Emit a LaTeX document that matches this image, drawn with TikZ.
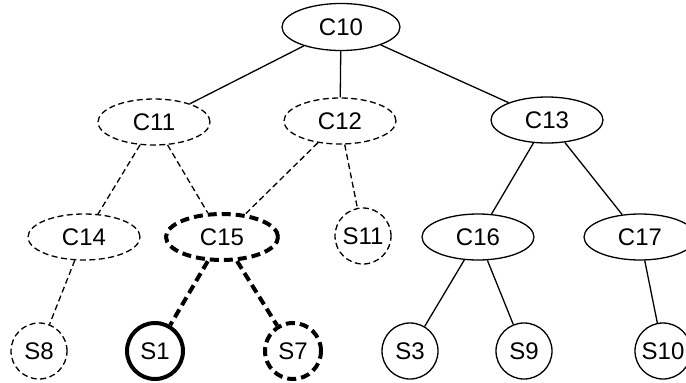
\documentclass[tikz,border=0pt]{standalone}
\usepackage{fontspec}
\setmainfont{Liberation Sans}
\usetikzlibrary{shapes.geometric}
\begin{document}
\begin{tikzpicture}[x=1pt,y=-1pt,
  every node/.style={font=\fontsize{24}{28}\selectfont, inner sep=0pt},
  cluster/.style={ellipse, draw, line width=1.3pt, minimum width=112pt, minimum height=46pt},
  leaf/.style={circle, draw, line width=1.3pt, minimum size=56pt},
  thin dash/.style={line width=1.3pt, dash pattern=on 6pt off 3.5pt},
  thick dash/.style={line width=4pt, dash pattern=on 9pt off 5pt},
  thick solid/.style={line width=4pt},
  link/.style={line width=1.3pt}]
\useasboundingbox (0,0) rectangle (686,383);
% clusters
\node[cluster, minimum width=118pt, minimum height=47pt] (c10) at (341,27) {C10};
\node[cluster, thin dash] (c11) at (154,122) {C11};
\node[cluster, thin dash] (c12) at (340,121) {C12};
\node[cluster] (c13) at (547,120) {C13};
\node[cluster, thin dash] (c14) at (84,237) {C14};
\node[cluster, thick dash] (c15) at (222,237) {C15};
\node[cluster] (c16) at (478,237) {C16};
\node[cluster] (c17) at (640,237) {C17};
% leaves
\node[leaf, thin dash] (s11) at (363,236) {S11};
\node[leaf, thin dash] (s8) at (39,351) {S8};
\node[leaf, thick solid] (s1) at (155,351) {S1};
\node[leaf, thick dash] (s7) at (293,351) {S7};
\node[leaf] (s3) at (410,351) {S3};
\node[leaf] (s9) at (524,351) {S9};
\node[leaf] (s10) at (663,351) {S10};
% connectors
\draw[link] (c10) -- (c11);
\draw[link] (c10) -- (c12);
\draw[link] (c10) -- (c13);
\draw[thin dash] (c11) -- (c14);
\draw[thin dash] (c11) -- (c15);
\draw[thin dash] (c12) -- (c15);
\draw[thin dash] (c12) -- (s11);
\draw[link] (c13) -- (c16);
\draw[link] (c13) -- (c17);
\draw[thin dash] (c14) -- (s8);
\draw[thick dash] (c15) -- (s1);
\draw[thick dash] (c15) -- (s7);
\draw[link] (c16) -- (s3);
\draw[link] (c16) -- (s9);
\draw[link] (c17) -- (s10);
\end{tikzpicture}
\end{document}
